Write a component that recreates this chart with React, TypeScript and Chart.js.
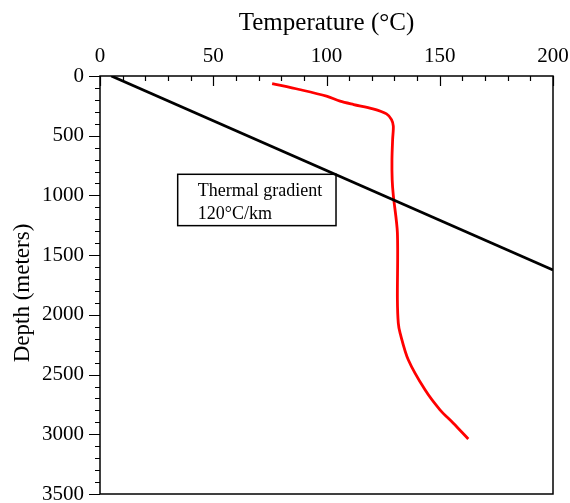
import React, { useEffect, useRef } from 'react';
import { Chart, registerables } from 'chart.js';

Chart.register(...registerables);

// ---- data ----
const tempTicks = [0, 50, 100, 150, 200];
const depthTicks = [0, 500, 1000, 1500, 2000, 2500, 3000, 3500];

const gradientTemps = [5, 200];
const gradientDepths = [0, 1625];

const wellTemps = [76, 88, 100, 106, 112, 120.5, 126.5, 128.7, 129.5, 129.2, 128.9, 129, 129.5, 131.3, 131.3, 131.7, 132.5, 136.1, 143.5, 150.1, 156, 162.6];
const wellDepths = [63, 113, 169, 211, 239, 275, 317, 365, 420, 530, 700, 870, 1000, 1314, 1873, 2069, 2153, 2376, 2628, 2795, 2907, 3039];

const boxLines = ['Thermal gradient', '120°C/km'];
const boxRange = { t0: 34.3, t1: 104.2, d0: 823, d1: 1253 };

const depthTitle = 'Depth (meters)';

const FONT = '"Liberation Serif", "Times New Roman", serif';

const framePlugin = {
  id: 'frameTicks',
  beforeDatasetsDraw(chart: any) {
    const { ctx, scales } = chart;
    const x = scales.x, y = scales.y;
    const l = x.getPixelForValue(boxRange.t0);
    const r = x.getPixelForValue(boxRange.t1);
    const t = y.getPixelForValue(boxRange.d0);
    const b = y.getPixelForValue(boxRange.d1);
    ctx.save();
    ctx.fillStyle = '#ffffff';
    ctx.fillRect(l, t, r - l, b - t);
    ctx.strokeStyle = '#000000';
    ctx.lineWidth = 1.5;
    ctx.strokeRect(l, t, r - l, b - t);
    ctx.fillStyle = '#000000';
    ctx.font = '18px ' + FONT;
    ctx.textAlign = 'left';
    ctx.textBaseline = 'alphabetic';
    ctx.fillText(boxLines[0], l + 20, t + 21.5);
    ctx.fillText(boxLines[1], l + 20, t + 44.5);
    ctx.restore();
  },
  afterDraw(chart: any) {
    const { ctx, chartArea: a, scales } = chart;
    const x = scales.x, y = scales.y;
    ctx.save();
    ctx.strokeStyle = '#000000';
    ctx.lineWidth = 1.5;
    ctx.strokeRect(a.left, a.top, a.right - a.left, a.bottom - a.top);
    ctx.lineWidth = 1.2;
    ctx.beginPath();
    for (let v = x.min; v <= x.max; v += 10) {
      const px = Math.round(x.getPixelForValue(v)) + 0.5;
      const len = v % 50 === 0 ? 10 : 5;
      ctx.moveTo(px, a.top);
      ctx.lineTo(px, a.top + len);
    }
    for (let v = y.min; v <= y.max; v += 100) {
      const py = Math.round(y.getPixelForValue(v)) + 0.5;
      const len = v % 500 === 0 ? 11 : 5;
      ctx.moveTo(a.left, py);
      ctx.lineTo(a.left - len, py);
    }
    ctx.stroke();
    // y-axis title
    ctx.translate(23, (a.top + a.bottom) / 2 + 8);
    ctx.rotate(-Math.PI / 2);
    ctx.fillStyle = '#000000';
    ctx.font = '23px ' + FONT;
    ctx.textAlign = 'center';
    ctx.textBaseline = 'middle';
    ctx.fillText(depthTitle, 0, 0);
    ctx.restore();
  },
};

export default function App() {
  const ref = useRef<HTMLCanvasElement | null>(null);

  useEffect(() => {
    if (!ref.current) return;
    const chart = new Chart(ref.current, {
      type: 'scatter',
      data: {
        datasets: [
          {
            label: 'Thermal gradient',
            data: gradientTemps.map((t, i) => ({ x: t, y: gradientDepths[i] })),
            showLine: true,
            borderColor: '#000000',
            borderWidth: 2.8,
            pointRadius: 0,
            tension: 0,
          },
          {
            label: 'Well temperature',
            data: wellTemps.map((t, i) => ({ x: t, y: wellDepths[i] })),
            showLine: true,
            borderColor: '#ff0000',
            borderWidth: 2.8,
            pointRadius: 0,
            tension: 0.3,
          },
        ],
      },
      options: {
        responsive: false,
        animation: false,
        layout: { padding: { left: 0, top: 0, right: 17, bottom: 9 } },
        plugins: { legend: { display: false }, tooltip: { enabled: false } },
        scales: {
          x: {
            type: 'linear',
            position: 'top',
            min: 0,
            max: 200,
            grid: { display: false, drawTicks: false },
            border: { display: false },
            afterBuildTicks: (s: any) => {
              s.ticks = tempTicks.map((v) => ({ value: v }));
            },
            afterFit: (s: any) => {
              s.height = 76;
              s.paddingLeft = 0;
              s.paddingRight = 0;
              s.paddingTop = 0;
              s.paddingBottom = 0;
            },
            ticks: {
              color: '#000000',
              font: { family: FONT, size: 21 },
              padding: 7,
              maxRotation: 0,
              callback: (v: any) => String(v),
            },
            title: {
              display: true,
              text: 'Temperature (°C)',
              color: '#000000',
              font: { family: FONT, size: 25 },
              padding: { top: 8, bottom: 0 },
            },
          },
          y: {
            type: 'linear',
            position: 'left',
            reverse: true,
            min: 0,
            max: 3500,
            grid: { display: false, drawTicks: false },
            border: { display: false },
            afterBuildTicks: (s: any) => {
              s.ticks = depthTicks.map((v) => ({ value: v }));
            },
            afterFit: (s: any) => {
              s.width = 100;
              s.paddingLeft = 0;
              s.paddingRight = 0;
              s.paddingTop = 0;
              s.paddingBottom = 0;
            },
            ticks: {
              color: '#000000',
              font: { family: FONT, size: 21 },
              padding: 16,
              callback: (v: any) => String(v),
            },
            title: { display: false },
          },
        },
      },
      plugins: [framePlugin],
    });
    return () => chart.destroy();
  }, []);

  return (
    <div style={{ position: 'absolute', left: 0, top: 0, width: 570, height: 503, background: '#fff' }}>
      <canvas ref={ref} width={570} height={503} style={{ display: 'block' }} />
    </div>
  );
}
